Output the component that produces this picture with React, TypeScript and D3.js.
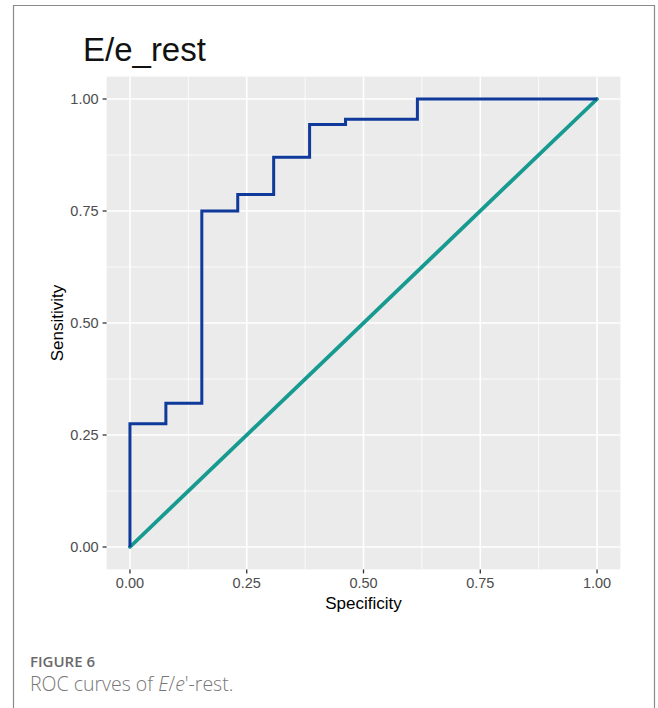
import React from "react";
import * as d3 from "d3";

// ROC step curve for E/e_rest (x on 0..1, y = sensitivity)
const rocX: number[] = [0, 0, 1 / 13, 1 / 13, 2 / 13, 2 / 13, 3 / 13, 3 / 13, 4 / 13, 4 / 13, 5 / 13, 5 / 13, 6 / 13, 6 / 13, 8 / 13, 8 / 13, 1];
const rocY: number[] = [0, 0.275, 0.275, 0.321, 0.321, 0.75, 0.75, 0.787, 0.787, 0.87, 0.87, 0.943, 0.943, 0.955, 0.955, 1, 1];

// Reference (chance) diagonal
const diagX: number[] = [0, 1];
const diagY: number[] = [0, 1];

const majorTicks: number[] = [0, 0.25, 0.5, 0.75, 1];
const minorTicks: number[] = [0.125, 0.375, 0.625, 0.875];
const tickLabels: string[] = ["0.00", "0.25", "0.50", "0.75", "1.00"];

const W = 658;
const H = 708;

const panel = { left: 106.6, right: 620.4, top: 76.6, bottom: 569.4 };

export default function App() {
  const x = d3
    .scaleLinear()
    .domain([-0.05, 1.05])
    .range([panel.left, panel.right]);
  const y = d3
    .scaleLinear()
    .domain([-0.05, 1.05])
    .range([panel.bottom, panel.top]);

  const line = d3
    .line<[number, number]>()
    .x((d) => x(d[0]))
    .y((d) => y(d[1]));

  const rocPts: [number, number][] = rocX.map((v, i) => [v, rocY[i]]);
  const diagPts: [number, number][] = diagX.map((v, i) => [v, diagY[i]]);

  const axisFont = "'Liberation Sans', Arial, Helvetica, sans-serif";
  const capFont = "'Open Sans', 'Noto Sans', sans-serif";

  return (
    <svg
      width={W}
      height={H}
      style={{ position: "absolute", left: 0, top: 0, background: "#fff" }}
    >
      {/* outer frame */}
      <path
        d={`M13.5,${H + 2} L13.5,5.5 L654.5,5.5 L654.5,${H + 2}`}
        fill="none"
        stroke="#8a8a8a"
        strokeWidth={1.2}
      />

      {/* title */}
      <text
        x={83}
        y={61}
        fontFamily={axisFont}
        fontSize={33}
        fill="#111"
      >
        E/e_rest
      </text>

      {/* panel background */}
      <rect
        x={panel.left}
        y={panel.top}
        width={panel.right - panel.left}
        height={panel.bottom - panel.top}
        fill="#ebebeb"
      />

      {/* minor grid */}
      {minorTicks.map((t) => (
        <g key={"mn" + t}>
          <line x1={x(t)} x2={x(t)} y1={panel.top} y2={panel.bottom} stroke="#fff" strokeWidth={0.8} />
          <line x1={panel.left} x2={panel.right} y1={y(t)} y2={y(t)} stroke="#fff" strokeWidth={0.8} />
        </g>
      ))}
      {/* major grid */}
      {majorTicks.map((t) => (
        <g key={"mj" + t}>
          <line x1={x(t)} x2={x(t)} y1={panel.top} y2={panel.bottom} stroke="#fff" strokeWidth={1.6} />
          <line x1={panel.left} x2={panel.right} y1={y(t)} y2={y(t)} stroke="#fff" strokeWidth={1.6} />
        </g>
      ))}

      {/* curves */}
      <path d={line(diagPts) ?? ""} fill="none" stroke="#179a90" strokeWidth={3.8} strokeLinecap="round" />
      <path d={line(rocPts) ?? ""} fill="none" stroke="#0f3a9c" strokeWidth={3} strokeLinejoin="miter" />

      {/* y axis ticks and labels */}
      {majorTicks.map((t, i) => (
        <g key={"yt" + t}>
          <line x1={panel.left - 4} x2={panel.left} y1={y(t)} y2={y(t)} stroke="#333" strokeWidth={1.3} />
          <text
            x={panel.left - 8}
            y={y(t)}
            dy="0.36em"
            textAnchor="end"
            fontFamily={axisFont}
            fontSize={14.5}
            fill="#4d4d4d"
          >
            {tickLabels[i]}
          </text>
        </g>
      ))}

      {/* x axis ticks and labels */}
      {majorTicks.map((t, i) => (
        <g key={"xt" + t}>
          <line x1={x(t)} x2={x(t)} y1={panel.bottom} y2={panel.bottom + 4} stroke="#333" strokeWidth={1.3} />
          <text
            x={x(t)}
            y={panel.bottom + 19}
            textAnchor="middle"
            fontFamily={axisFont}
            fontSize={14.5}
            fill="#4d4d4d"
          >
            {tickLabels[i]}
          </text>
        </g>
      ))}

      {/* axis titles */}
      <text
        x={(panel.left + panel.right) / 2}
        y={609}
        textAnchor="middle"
        fontFamily={axisFont}
        fontSize={17}
        fill="#000"
      >
        Specificity
      </text>
      <text
        transform={`translate(63,${(panel.top + panel.bottom) / 2}) rotate(-90)`}
        textAnchor="middle"
        fontFamily={axisFont}
        fontSize={17}
        fill="#000"
      >
        Sensitivity
      </text>

      {/* caption */}
      <text x={30} y={667} fontFamily={capFont} fontSize={15} fontWeight={600} fill="#6a6a6a">
        FIGURE 6
      </text>
      <text x={30} y={691} fontFamily={capFont} fontSize={19.5} fontWeight={300} fill="#777">
        ROC curves of <tspan fontStyle="italic">E</tspan>/<tspan fontStyle="italic">e</tspan>'-rest.
      </text>
    </svg>
  );
}
